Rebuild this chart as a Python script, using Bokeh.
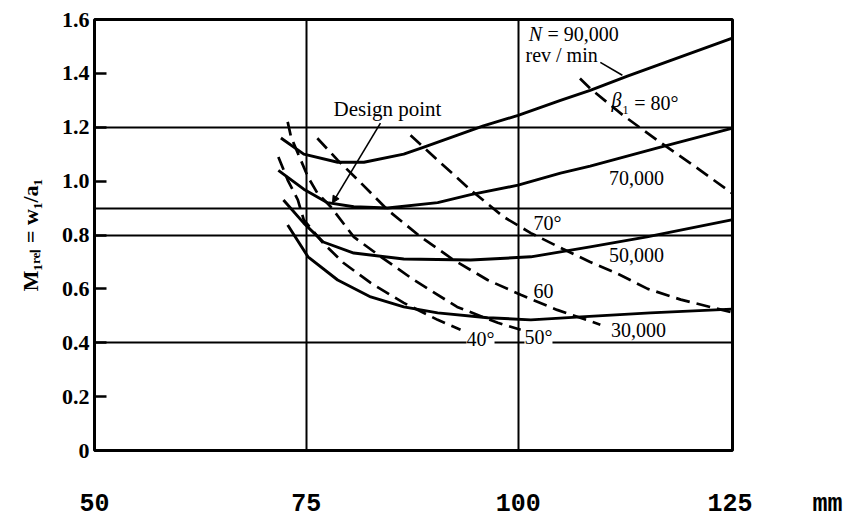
from bokeh.plotting import figure
from bokeh.models import (Range1d, FixedTicker, Label, Arrow, NormalHead,
                          PrintfTickFormatter)
from bokeh.embed import file_html
from bokeh.resources import INLINE

# ---------------- data ----------------
# Solid curves: constant rotational speed N (rev/min)
n90_x = [72.0, 74.7, 78.7, 81.8, 86.5, 88.8, 95.9, 100.0, 105.0, 108.5, 112.9, 125.2]
n90_y = [1.16, 1.10, 1.07, 1.07, 1.10, 1.125, 1.205, 1.244, 1.30, 1.337, 1.39, 1.53]

n70_x = [71.7, 74.7, 77.5, 80.6, 84.6, 90.5, 94.4, 100.0, 105.0, 108.5, 116.8, 125.2]
n70_y = [1.04, 0.97, 0.92, 0.905, 0.90, 0.92, 0.95, 0.985, 1.03, 1.056, 1.126, 1.196]

n50_x = [72.3, 74.7, 77.0, 80.6, 86.5, 94.4, 101.5, 108.5, 115.2, 125.2]
n50_y = [0.93, 0.844, 0.774, 0.733, 0.711, 0.707, 0.719, 0.756, 0.793, 0.856]

n30_x = [72.8, 75.2, 78.7, 82.6, 86.5, 90.5, 96.4, 101.5, 107.4, 115.6, 125.2]
n30_y = [0.837, 0.719, 0.633, 0.570, 0.533, 0.511, 0.493, 0.485, 0.496, 0.511, 0.525]

# Dashed curves: constant relative flow angle beta_1
b40_x = [71.7, 72.8, 74.0, 74.7, 77.0, 79.4, 82.6, 86.5, 90.5, 93.2]
b40_y = [1.09, 1.004, 0.93, 0.856, 0.77, 0.696, 0.622, 0.548, 0.485, 0.448]

b50_x = [72.8, 73.2, 74.0, 75.2, 76.3, 77.9, 80.6, 83.8, 87.7, 92.8, 97.6, 100.3]
b50_y = [1.22, 1.163, 1.104, 1.015, 0.956, 0.904, 0.793, 0.719, 0.633, 0.533, 0.474, 0.448]

b60_x = [76.3, 78.7, 81.1, 84.6, 88.5, 92.4, 96.4, 100.3, 104.6, 109.7]
b60_y = [1.159, 1.078, 1.004, 0.893, 0.793, 0.707, 0.633, 0.578, 0.522, 0.467]

b70_x = [87.3, 90.5, 94.4, 98.3, 101.5, 105.3, 108.5, 111.5, 115.3, 119.2, 125.2]
b70_y = [1.17, 1.078, 0.967, 0.867, 0.807, 0.748, 0.70, 0.66, 0.60, 0.56, 0.513]

b80_x = [107.3, 108.5, 112.4, 116.4, 120.3, 125.2]
b80_y = [1.381, 1.344, 1.244, 1.152, 1.067, 0.956]

x_ticks = [50, 75, 100, 125]
x_tick_labels = ["50", "75", "100", "125"]
x_unit = "mm"
y_ticks = [0, 0.2, 0.4, 0.6, 0.8, 1.0, 1.2, 1.4, 1.6]
x_grid = [75, 100]
y_grid = [0.4, 0.8, 0.9, 1.2]
y_title = "M\u2081\u1d63\u2091\u2097 = w\u2081/a\u2081"

# ---------------- figure ----------------
p = figure(width=852, height=521, output_backend="svg", toolbar_location=None,
           x_range=Range1d(50, 125.3), y_range=Range1d(0, 1.6),
           min_border_left=94, min_border_right=120, min_border_top=19,
           min_border_bottom=70)
p.background_fill_color = "white"
p.border_fill_color = "white"
p.outline_line_color = "black"
p.outline_line_width = 3

# grid
p.xgrid.ticker = FixedTicker(ticks=x_grid)
p.ygrid.ticker = FixedTicker(ticks=y_grid)
for g in (p.xgrid, p.ygrid):
    g.grid_line_color = "black"
    g.grid_line_width = 2
    g.grid_line_alpha = 1

# y axis
ya = p.yaxis[0]
ya.ticker = FixedTicker(ticks=y_ticks)
ya.formatter = PrintfTickFormatter(format="%.1f")
ya.major_label_overrides = {0: "0"}
ya.axis_line_color = None
ya.major_tick_in = 12
ya.major_tick_out = 0
ya.major_tick_line_width = 2.5
ya.major_tick_line_color = "black"
ya.minor_tick_line_color = None
ya.major_label_text_font = "Liberation Serif"
ya.major_label_text_font_style = "bold"
ya.major_label_text_font_size = "22px"
ya.major_label_text_color = "black"
ya.major_label_standoff = 5
ya.axis_label = y_title
ya.axis_label_text_font = "Liberation Serif"
ya.axis_label_text_font_style = "bold"
ya.axis_label_text_font_size = "22px"
ya.axis_label_text_color = "black"
ya.axis_label_standoff = 16

# x axis (unit text appended to the last tick label with no-break spaces)
nb = "\u00a0"
overrides = {t: s for t, s in zip(x_ticks, x_tick_labels)}
overrides[x_ticks[-1]] = nb * 6 + x_tick_labels[-1] + nb * 4 + x_unit
xa = p.xaxis[0]
xa.ticker = FixedTicker(ticks=x_ticks)
xa.major_label_overrides = overrides
xa.axis_line_color = None
xa.major_tick_in = 0
xa.major_tick_out = 0
xa.minor_tick_line_color = None
xa.major_label_text_font = "Liberation Mono"
xa.major_label_text_font_style = "bold"
xa.major_label_text_font_size = "25px"
xa.major_label_text_color = "black"
xa.major_label_standoff = 39

# curves
for xs, ys in [(n90_x, n90_y), (n70_x, n70_y), (n50_x, n50_y), (n30_x, n30_y)]:
    p.line(xs, ys, line_color="black", line_width=2.9, line_join="round")

for xs, ys in [(b40_x, b40_y), (b50_x, b50_y), (b60_x, b60_y), (b70_x, b70_y), (b80_x, b80_y)]:
    p.line(xs, ys, line_color="black", line_width=2.7, line_dash="14 7")

# ---------------- annotations ----------------
def lab(x, y, t, size="20px", style="normal", align="center", bg=None,
        font="Liberation Serif"):
    l = Label(x=x, y=y, text=t, text_font=font, text_font_size=size,
              text_font_style=style, text_align=align, text_baseline="middle",
              text_color="black")
    if bg is not None:
        l.background_fill_color = bg
        l.background_fill_alpha = 1.0
    p.add_layout(l)

lab(102.05, 1.548, "N", style="italic")
lab(103.46, 1.548, "= 90,000", align="left")
lab(100.87, 1.467, "rev / min", align="left")
lab(111.6, 1.30, "\u03b2", style="italic")
lab(112.3, 1.29, "\u2081 = 80\u00b0", align="left")
lab(113.97, 1.011, "70,000")
lab(103.46, 0.844, "70\u00b0")
lab(113.97, 0.726, "50,000")
lab(102.99, 0.593, "60")
lab(114.2, 0.448, "30,000")
lab(95.56, 0.415, "40\u00b0", bg="white")
lab(102.4, 0.422, "50\u00b0", bg="white")
lab(84.58, 1.267, "Design point", size="21px")

p.add_layout(Arrow(x_start=83.75, y_start=1.215, x_end=78.09, y_end=0.919,
                   line_color="black", line_width=1.6,
                   end=NormalHead(size=7, fill_color="black", line_color="black")))
p.add_layout(Arrow(x_start=109.7, y_start=1.441, x_end=112.3, y_end=1.393,
                   line_color="black", line_width=1.6, end=None))

open("out.html", "w").write(file_html(p, INLINE))
